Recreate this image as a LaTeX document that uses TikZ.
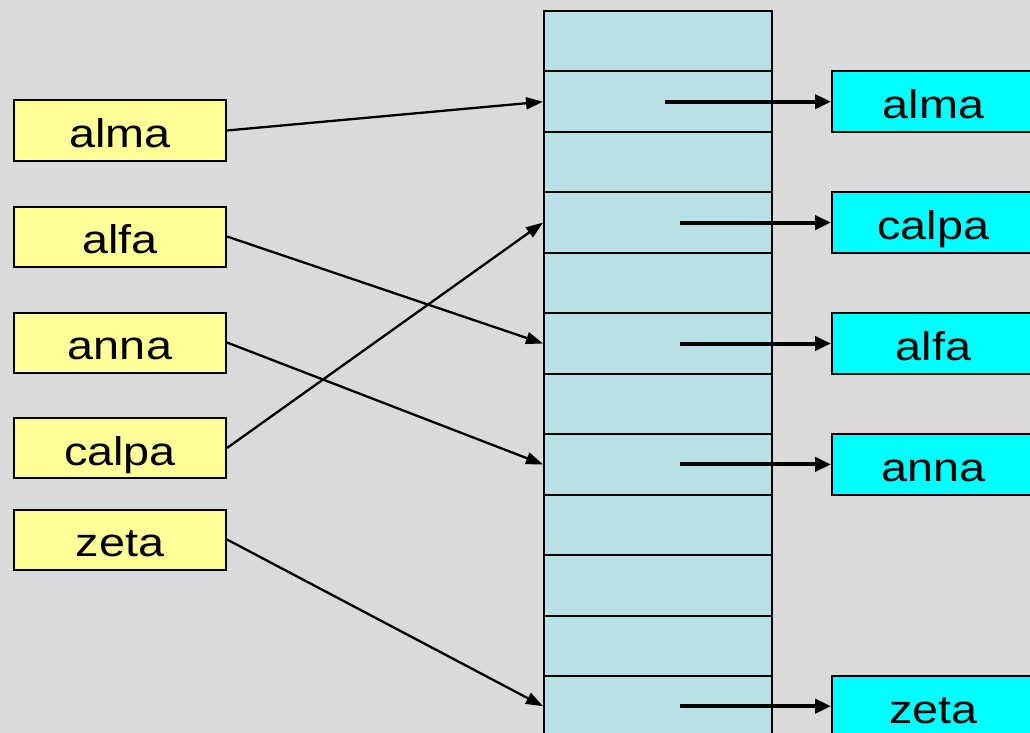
\documentclass[tikz,border=0pt]{standalone}
\usepackage{fontspec}
\setmainfont{Liberation Sans}[FakeStretch=1.17]
\usetikzlibrary{arrows.meta,calc}
\definecolor{bgc}{RGB}{218,218,218}
\definecolor{ylw}{RGB}{255,255,153}
\definecolor{tbl}{RGB}{185,224,228}
\definecolor{cyn}{RGB}{0,255,255}
\tikzset{
  lbl/.style={inner sep=0pt,text height=34pt,text depth=0pt,font=\fontsize{40}{40}\selectfont},
  key/.style={lbl,draw=black,line width=2pt,fill=ylw,minimum width=212pt,minimum height=60pt},
  val/.style={lbl,draw=black,line width=2pt,fill=cyn,minimum width=203pt,minimum height=60.5pt,anchor=west},
  cell/.style={draw=black,line width=2pt,fill=tbl,minimum width=228pt,minimum height=60.5pt,inner sep=0pt,anchor=north west},
  hash/.style={line width=2.3pt,-{Triangle[length=17pt,width=12pt]}},
  link/.style={line width=4pt,-{Triangle[length=16pt,width=14pt]}}
}
\begin{document}
\begin{tikzpicture}[x=1pt,y=-1pt]
\fill[bgc] (0,0) rectangle (1030,733);
\useasboundingbox (0,0) rectangle (1030,733);
\foreach \i in {0,...,11}{
  \node[cell] (r\i) at (543,{10+60.45*\i}) {};
}
\node[key] (kalma)  at (120,130.5) {alma};
\node[key] (kalfa)  at (120,236.5) {alfa};
\node[key] (kanna)  at (120,342.5) {anna};
\node[key] (kcalpa) at (120,448) {calpa};
\node[key] (kzeta)  at (120,539.5) {zeta};
\node[val] (valma)  at (r1.east -| 831,0) {alma};
\node[val] (vcalpa) at (r3.east -| 831,0) {calpa};
\node[val] (valfa)  at (r5.east -| 831,0) {alfa};
\node[val] (vanna)  at (r7.east -| 831,0) {anna};
\node[val] (vzeta)  at (r11.east -| 831,0) {zeta};
\draw[hash] (kalma.east) -- (r1.west);
\draw[hash] (kalfa.east) -- (r5.west);
\draw[hash] (kanna.east) -- (r7.west);
\draw[hash] (kcalpa.east) -- (r3.west);
\draw[hash] (kzeta.east) -- (r11.west);
\coordinate (s1) at ([xshift=122pt]r1.west);
\coordinate (s3) at ([xshift=137pt]r3.west);
\coordinate (s5) at ([xshift=137pt]r5.west);
\coordinate (s7) at ([xshift=137pt]r7.west);
\coordinate (s11) at ([xshift=137pt]r11.west);
\draw[link] (s1) -- (valma.west);
\draw[link] (s3) -- (vcalpa.west);
\draw[link] (s5) -- (valfa.west);
\draw[link] (s7) -- (vanna.west);
\draw[link] (s11) -- (vzeta.west);
\end{tikzpicture}
\end{document}
